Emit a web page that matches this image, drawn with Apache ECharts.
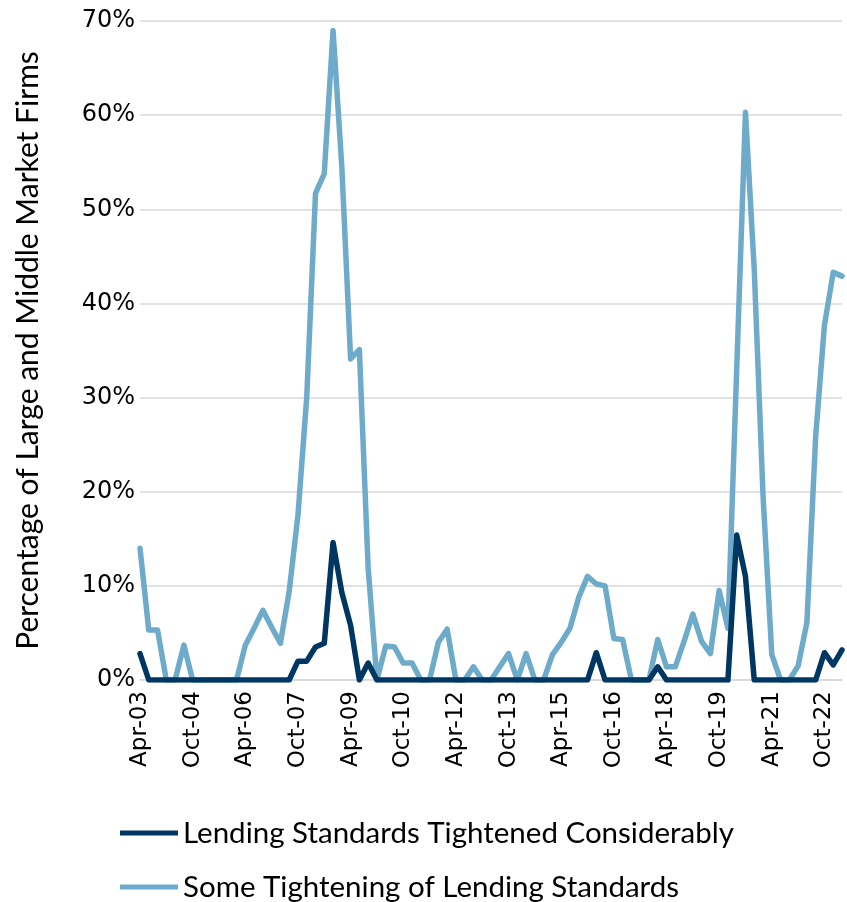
<!DOCTYPE html>
<html>
<head>
<meta charset="utf-8">
<script src="https://cdn.jsdelivr.net/npm/echarts@6/dist/echarts.min.js"></script>
<style>
html,body{margin:0;padding:0;background:#fff;}
#chart{width:847px;height:902px;}
</style>
</head>
<body>
<div id="chart"></div>
<script>
const categories = [
 "Apr-03","Jul-03","Oct-03","Jan-04","Apr-04","Jul-04","Oct-04","Jan-05","Apr-05","Jul-05","Oct-05","Jan-06",
 "Apr-06","Jul-06","Oct-06","Jan-07","Apr-07","Jul-07","Oct-07","Jan-08","Apr-08","Jul-08","Oct-08","Jan-09",
 "Apr-09","Jul-09","Oct-09","Jan-10","Apr-10","Jul-10","Oct-10","Jan-11","Apr-11","Jul-11","Oct-11","Jan-12",
 "Apr-12","Jul-12","Oct-12","Jan-13","Apr-13","Jul-13","Oct-13","Jan-14","Apr-14","Jul-14","Oct-14","Jan-15",
 "Apr-15","Jul-15","Oct-15","Jan-16","Apr-16","Jul-16","Oct-16","Jan-17","Apr-17","Jul-17","Oct-17","Jan-18",
 "Apr-18","Jul-18","Oct-18","Jan-19","Apr-19","Jul-19","Oct-19","Jan-20","Apr-20","Jul-20","Oct-20","Jan-21",
 "Apr-21","Jul-21","Oct-21","Jan-22","Apr-22","Jul-22","Oct-22","Jan-23","Apr-23"
];

const tightenedConsiderably = [
 2.8,0,0,0,0,0,0,0,0,0,0,0,
 0,0,0,0,0,0,2.0,2.0,3.5,3.9,14.6,9.3,
 5.8,0,1.8,0,0,0,0,0,0,0,0,0,
 0,0,0,0,0,0,0,0,0,0,0,0,
 0,0,0,0,2.9,0,0,0,0,0,0,1.4,
 0,0,0,0,0,0,0,0,15.4,11.0,0,0,
 0,0,0,0,0,0,2.9,1.6,3.2
];

const someTightening = [
 14.0,5.3,5.3,0,0,3.7,0,0,0,0,0,0,
 3.7,5.5,7.4,5.6,3.9,9.4,17.5,30.0,51.7,53.8,69.0,54.5,
 34.1,35.1,11.9,0,3.6,3.5,1.8,1.8,0,0,4.0,5.4,
 0,0,1.4,0,0,1.4,2.8,0,2.8,0,0,2.7,
 4.0,5.5,8.8,11.0,10.2,10.0,4.4,4.3,0,0,0,4.3,
 1.4,1.4,4.1,7.0,4.1,2.8,9.5,5.5,33.0,60.3,43.6,19.6,
 2.7,0,0,1.5,6.1,25.9,37.7,43.3,42.9
];

const seriesNames = ["Lending Standards Tightened Considerably", "Some Tightening of Lending Standards"];
const yTicks = { min: 0, max: 70, interval: 10 };

const chart = echarts.init(document.getElementById('chart'), null, {renderer: 'canvas'});
const tickFont = 'DejaVu Sans';
const textFont = 'Lato';

const legendBase = {
  orient: 'horizontal',
  left: 115,
  itemWidth: 58,
  itemHeight: 5,
  icon: 'rect',
  textStyle: { color: '#000', fontFamily: textFont, fontSize: 29.5 }
};

chart.setOption({
  animation: false,
  backgroundColor: '#ffffff',
  grid: { left: 140, right: 5, top: 21, bottom: 222, containLabel: false },
  xAxis: {
    type: 'category',
    data: categories,
    boundaryGap: false,
    axisLine: { show: true, lineStyle: { color: '#d9d9d9', width: 1.5 } },
    axisTick: { show: false },
    axisLabel: {
      interval: 5,
      rotate: 90,
      margin: 11,
      color: '#000',
      fontFamily: tickFont,
      fontSize: 23
    },
    splitLine: { show: false }
  },
  yAxis: {
    type: 'value',
    min: yTicks.min,
    max: yTicks.max,
    interval: yTicks.interval,
    name: 'Percentage of Large and Middle Market Firms',
    nameLocation: 'middle',
    nameGap: 97,
    nameRotate: 90,
    nameTextStyle: { color: '#000', fontFamily: textFont, fontSize: 30 },
    axisLine: { show: false },
    axisTick: { show: false },
    axisLabel: {
      formatter: '{value}%',
      margin: 5,
      color: '#000',
      fontFamily: tickFont,
      fontSize: 24
    },
    splitLine: { show: true, lineStyle: { color: '#d9d9d9', width: 1.5 } }
  },
  legend: [
    Object.assign({}, legendBase, { top: 813, data: [seriesNames[0]] }),
    Object.assign({}, legendBase, { top: 867, data: [seriesNames[1]] })
  ],
  series: [
    {
      name: seriesNames[0],
      type: 'line',
      data: tightenedConsiderably,
      showSymbol: false,
      symbol: 'none',
      z: 3,
      lineStyle: { color: '#003762', width: 5.5, cap: 'round', join: 'round' },
      itemStyle: { color: '#003762' }
    },
    {
      name: seriesNames[1],
      type: 'line',
      data: someTightening,
      showSymbol: false,
      symbol: 'none',
      z: 2,
      lineStyle: { color: '#6eabca', width: 5.5, cap: 'round', join: 'round' },
      itemStyle: { color: '#6eabca' }
    }
  ]
});
</script>
</body>
</html>
